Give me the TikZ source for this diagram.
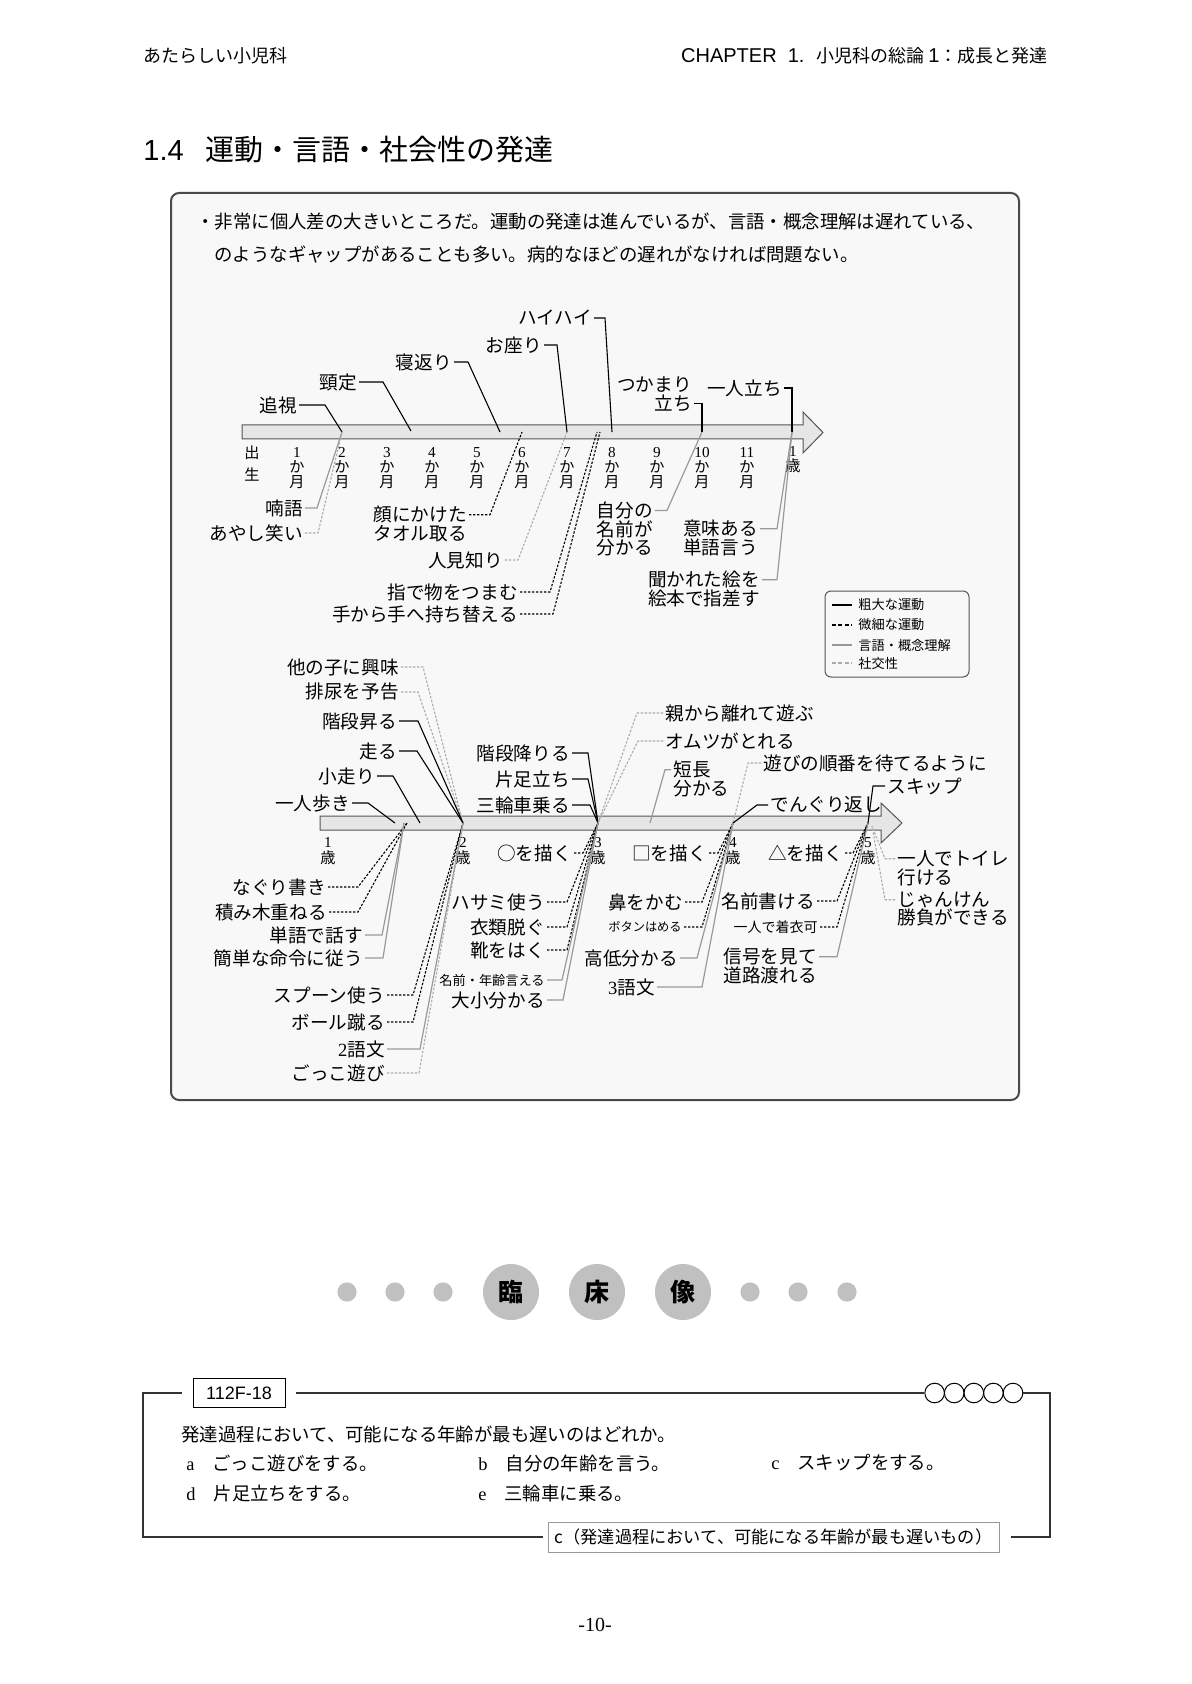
\documentclass[tikz,border=0pt]{standalone}
\usepackage{fontspec}
\setmainfont{Liberation Serif}
\newfontfamily\jp{Noto Sans CJK JP}
\newfontfamily\hd{Liberation Sans}
\definecolor{boxbg}{HTML}{F8F8F8}
\definecolor{boxline}{HTML}{4A4A4A}
\definecolor{barfill}{HTML}{E6E6E6}
\definecolor{barline}{HTML}{555555}
\definecolor{langc}{HTML}{999999}
\definecolor{socc}{HTML}{ABABAB}
\definecolor{dotc}{HTML}{C0C0C0}
\definecolor{qline}{HTML}{333333}
\tikzset{
  lbl/.style={font=\jp\fontsize{9.3}{9.3}\selectfont, inner sep=1pt, align=right},
  lblL/.style={lbl, align=left},
  small/.style={font=\jp\fontsize{6.6}{7}\selectfont, inner sep=1pt},
  tick/.style={font=\rmfamily\fontsize{7.6}{7.5}\selectfont, inner sep=0pt, align=center},
  gross/.style={line width=0.55pt, black},
  fine/.style={line width=0.55pt, black, dash pattern=on 1.2pt off 0.8pt},
  lang/.style={line width=0.6pt, langc},
  soc/.style={line width=0.55pt, socc, dash pattern=on 1.2pt off 0.8pt},
  bar/.style={draw=barline, fill=barfill, line width=0.5pt},
  note/.style={font=\jp\fontsize{9.2}{11}\selectfont, inner sep=0pt},
  leg/.style={font=\jp\fontsize{6.6}{7}\selectfont, inner sep=0pt, anchor=west},
  qtxt/.style={font=\jp\fontsize{9.2}{11}\selectfont, inner sep=0pt},
  bigdot/.style={circle, fill=dotc, minimum size=28pt, inner sep=0pt, font=\jp\bfseries\fontsize{12.5}{13}\selectfont}
}
\begin{document}
\begin{tikzpicture}[x=0.5pt,y=-0.5pt]
\useasboundingbox (0,0) rectangle (1191,1684);
\fill[white] (0,0) rectangle (1191,1684);

% header and section title
\node[font=\jp\fontsize{9}{10}\selectfont, anchor=west, inner sep=0] (hleft) at (143,56) {あたらしい小児科};
\node[font=\jp\fontsize{9}{10}\selectfont, anchor=east, inner sep=0] (hright) at (1048,56) {{\hd\fontsize{10}{10}\selectfont CHAPTER\ \ 1.}\hspace{6pt}小児科の総論\hspace{2pt}{\hd\fontsize{10}{10}\selectfont 1}：成長と発達};
\node[font=\fontsize{14.5}{16}\selectfont, anchor=west, inner sep=0] (title) at (143,150) {{\hd 1.4}\hspace{11pt}{\jp 運動・言語・社会性の発達}};

\draw[draw=boxline, fill=boxbg, line width=1pt, rounded corners=4pt] (171,193) rectangle (1019,1100);
\node[note, anchor=west] (note1) at (196,222) {・非常に個人差の大きいところだ。運動の発達は進んでいるが、言語・概念理解は遅れている、};
\node[note, anchor=west] (note2) at (214,254) {のようなギャップがあることも多い。病的なほどの遅れがなければ問題ない。};

% first year
\draw[bar] (242,425) -- (803,425) -- (803,412) -- (823,432.5) -- (803,453) -- (803,439) -- (242,439) -- cycle;
\foreach \k in {0,...,12}
  \coordinate (u\k) at ({252+45*\k},432);
\coordinate (kubiP) at (411,431);
\coordinate (negaeriP) at (500,432);
\coordinate (pinchA) at (597,432);
\coordinate (pinchB) at (600,432);
\node[tick] (t0) at (252,464) {{\jp 出}\\[3.5pt]{\jp 生}};
\foreach \k in {1,...,11}
  \node[tick] (t\k) at ({252+45*\k},468) {\k\\{\jp か}\\{\jp 月}};
\node[tick] (t12) at (793,460) {1\\{\jp 歳}};

\node[lbl, anchor=east] (tsuishi) at (299,405) {追視};
\node[lbl, anchor=east] (kubi) at (359,382) {頸定};
\node[lbl, anchor=east] (negaeri) at (454,362) {寝返り};
\node[lbl, anchor=east] (osuwari) at (544,345) {お座り};
\node[lbl, anchor=east] (haihai) at (594,318) {ハイハイ};
\node[lbl, anchor=east] (tsukamari) at (694,394) {つかまり\\立ち};
\node[lbl, anchor=east] (hitoridachi) at (784,388) {一人立ち};
\draw[gross] (tsuishi.east) -- ++(26,0) -- (u2);
\draw[gross] (kubi.east) -- ++(24,0) -- (kubiP);
\draw[gross] (negaeri.east) -- ++(14,0) -- (negaeriP);
\draw[gross] (osuwari.east) -- ++(13,0) -- (u7);
\draw[gross] (haihai.east) -- ++(11,0) -- (u8);
\draw[gross] ([yshift=-4.65pt]tsukamari.east) -- ++(8,0) -- (u10);
\draw[gross] (hitoridachi.east) -- ++(8,0) -- (u12);

\node[lbl, anchor=east] (nango) at (305,508) {喃語};
\node[lbl, anchor=east] (ayashi) at (305,533) {あやし笑い};
\node[lbl, anchor=east] (kao) at (469,524) {顔にかけた\\タオル取る};
\node[lbl, anchor=east] (hitomishiri) at (505,560) {人見知り};
\node[lbl, anchor=east] (yubi) at (520,592) {指で物をつまむ};
\node[lbl, anchor=east] (mochikae) at (520,614) {手から手へ持ち替える};
\node[lblL, anchor=east] (jibun) at (655,529) {自分の\\名前が\\分かる};
\node[lblL, anchor=east] (imi) at (760,538) {意味ある\\単語言う};
\node[lblL, anchor=east] (kikareta) at (762,589) {聞かれた絵を\\絵本で指差す};
\draw[lang] (nango.east) -- ++(12,0) -- (u2);
\draw[soc] (ayashi.east) -- ++(13,0) -- (u2);
\draw[fine] ([yshift=4.65pt]kao.east) -- ++(21,0) -- (u6);
\draw[soc] (hitomishiri.east) -- ++(13,0) -- (u7);
\draw[fine] (yubi.east) -- ++(30,0) -- (pinchA);
\draw[fine] (mochikae.east) -- ++(33,0) -- (pinchB);
\draw[lang] ([yshift=9.3pt]jibun.east) -- ++(12,0) -- (u10);
\draw[lang] ([yshift=4.65pt]imi.east) -- ++(17,0) -- (u12);
\draw[lang] ([yshift=4.65pt]kikareta.east) -- ++(15,0) -- (u12);

% legend
\draw[line width=0.5pt, draw=barline, rounded corners=3pt] (825,591) rectangle (969,677);
\node[leg] (lg1) at (858,605) {粗大な運動};
\node[leg] (lg2) at (858,625) {微細な運動};
\node[leg] (lg3) at (858,645) {言語・概念理解};
\node[leg] (lg4) at (858,663) {社交性};
\draw[gross, line width=0.8pt] ([xshift=-13pt]lg1.west) -- ++(20,0);
\draw[fine, line width=0.8pt, dash pattern=on 2pt off 1.2pt] ([xshift=-13pt]lg2.west) -- ++(20,0);
\draw[lang, line width=0.8pt] ([xshift=-13pt]lg3.west) -- ++(20,0);
\draw[soc, line width=0.8pt, dash pattern=on 2pt off 1.2pt] ([xshift=-13pt]lg4.west) -- ++(20,0);

% from 1 to 5 years
\draw[bar] (320,816) -- (881,816) -- (881,803) -- (902,823) -- (881,843) -- (881,830) -- (320,830) -- cycle;
\foreach \k in {1,...,5}
  \coordinate (y\k) at ({193+135*\k},823);
\coordinate (haP) at (395,823);
\coordinate (kbP) at (420,823);
\coordinate (nkP) at (407,823);
\coordinate (nkQ) at (404,823);
\coordinate (tcP) at (650,823);
\coordinate (y5r) at (872,826);
\foreach \k in {1,...,5}
  \node[tick, font=\rmfamily\fontsize{7.6}{8}\selectfont] (s\k) at ({193+135*\k},851) {\k\\{\jp 歳}};

\node[lbl, anchor=east] (tanoko) at (401,667) {他の子に興味};
\node[lbl, anchor=east] (hainyo) at (401,692) {排尿を予告};
\node[lbl, anchor=east] (kaidan) at (399,721) {階段昇る};
\node[lbl, anchor=east] (hashiru) at (399,751) {走る};
\node[lbl, anchor=east] (kobashiri) at (377,776) {小走り};
\node[lbl, anchor=east] (aruki) at (352,803) {一人歩き};
\node[lbl, anchor=east] (kaidanori) at (572,753) {階段降りる};
\node[lbl, anchor=east] (kataashi) at (572,779) {片足立ち};
\node[lbl, anchor=east] (sanrin) at (572,805) {三輪車乗る};
\node[lblL, anchor=west] (oya) at (663,713) {親から離れて遊ぶ};
\node[lblL, anchor=west] (omutsu) at (663,741) {オムツがとれる};
\node[lblL, anchor=west] (tancho) at (671,779) {短長\\分かる};
\node[lblL, anchor=west] (junban) at (761,763) {遊びの順番を待てるように};
\node[lblL, anchor=west] (dengu) at (768,805) {でんぐり返し};
\node[lblL, anchor=west] (skip) at (885,786) {スキップ};
\draw[soc] (tanoko.east) -- ++(22,0) -- (y2);
\draw[soc] (hainyo.east) -- ++(17,0) -- (y2);
\draw[gross] (kaidan.east) -- ++(19,0) -- (y2);
\draw[gross] (hashiru.east) -- ++(18,0) -- (y2);
\draw[gross] (kobashiri.east) -- ++(16,0) -- (kbP);
\draw[gross] (aruki.east) -- ++(16,0) -- (haP);
\draw[gross] (kaidanori.east) -- ++(16,0) -- (y3);
\draw[gross] (kataashi.east) -- ++(16,0) -- (y3);
\draw[gross] (sanrin.east) -- ++(18,0) -- (y3);
\draw[soc] (oya.west) -- ++(-26,0) -- (y3);
\draw[soc] (omutsu.west) -- ++(-25,0) -- (y3);
\draw[lang] ([yshift=4.65pt]tancho.west) -- ++(-6,0) -- (tcP);
\draw[soc] (junban.west) -- ++(-13,0) -- (y4);
\draw[gross] (dengu.west) -- ++(-11,0) -- (y4);
\draw[gross] (skip.west) -- ++(-12,0) -- (y5);

\node[lbl, anchor=east] (maru) at (574,853) {○を描く};
\node[lbl, anchor=east] (shikaku) at (709,853) {□を描く};
\node[lbl, anchor=east] (sankaku) at (845,853) {△を描く};
\draw[fine] (maru.east) -- ++(9,0) -- (y3);
\draw[fine] (shikaku.east) -- ++(9,0) -- (y4);
\draw[fine] (sankaku.east) -- ++(8,0) -- (y5);

\node[lbl, anchor=east] (naguri) at (328,887) {なぐり書き};
\node[lbl, anchor=east] (tsumiki) at (329,912) {積み木重ねる};
\node[lbl, anchor=east] (tango) at (365,935) {単語で話す};
\node[lbl, anchor=east] (meirei) at (365,958) {簡単な命令に従う};
\node[lbl, anchor=east] (spoon) at (387,995) {スプーン使う};
\node[lbl, anchor=east] (ball) at (387,1022) {ボール蹴る};
\node[lbl, anchor=east] (nigo) at (387,1049) {{\rmfamily 2}語文};
\node[lbl, anchor=east] (gokko) at (387,1073) {ごっこ遊び};
\draw[fine] (naguri.east) -- ++(30,0) -- (nkP);
\draw[fine] (tsumiki.east) -- ++(29,0) -- (nkP);
\draw[lang] (tango.east) -- ++(17,0) -- (nkQ);
\draw[lang] (meirei.east) -- ++(18,0) -- (nkQ);
\draw[fine] (spoon.east) -- ++(26,0) -- (y2);
\draw[fine] (ball.east) -- ++(26,0) -- (y2);
\draw[lang] (nigo.east) -- ++(33,0) -- (y2);
\draw[soc] (gokko.east) -- ++(32,0) -- (y2);

\node[lbl, anchor=east] (hasami) at (547,902) {ハサミ使う};
\node[lbl, anchor=east] (irui) at (547,927) {衣類脱ぐ};
\node[lbl, anchor=east] (kutsu) at (547,950) {靴をはく};
\node[small, anchor=east] (namae) at (547,980) {名前・年齢言える};
\node[lbl, anchor=east] (daisho) at (547,1000) {大小分かる};
\draw[fine] (hasami.east) -- ++(20,0) -- (y3);
\draw[fine] (irui.east) -- ++(20,0) -- (y3);
\draw[fine] (kutsu.east) -- ++(20,0) -- (y3);
\draw[lang] (namae.east) -- ++(15,0) -- (y3);
\draw[lang] (daisho.east) -- ++(16,0) -- (y3);

\node[lbl, anchor=east] (hana) at (685,902) {鼻をかむ};
\node[small, font=\jp\fontsize{6.1}{7}\selectfont, anchor=east] (botan) at (684,927) {ボタンはめる};
\node[lbl, anchor=east] (kotei) at (680,958) {高低分かる};
\node[lbl, anchor=east] (sango) at (657,987) {{\rmfamily 3}語文};
\draw[fine] (hana.east) -- ++(17,0) -- (y4);
\draw[fine] (botan.east) -- ++(18,0) -- (y4);
\draw[lang] (kotei.east) -- ++(17,0) -- (y4);
\draw[lang] (sango.east) -- ++(45,0) -- (y4);

\node[lbl, anchor=east] (namaekake) at (817,901) {名前書ける};
\node[small, font=\jp\fontsize{7}{7.5}\selectfont, anchor=east] (chakui) at (820,927) {一人で着衣可};
\node[lblL, anchor=east] (shingo) at (819,966) {信号を見て\\道路渡れる};
\node[lblL, anchor=west] (toilet) at (895,868) {一人でトイレ\\行ける};
\node[lblL, anchor=west] (janken) at (895,909) {じゃんけん\\勝負ができる};
\draw[fine] (namaekake.east) -- ++(20,0) -- (y5);
\draw[fine] (chakui.east) -- ++(17,0) -- (y5);
\draw[lang] ([yshift=4.65pt]shingo.east) -- ++(18,0) -- (y5);
\draw[soc] ([yshift=4.65pt]toilet.west) -- ++(-10,0) -- (y5r);
\draw[soc] ([yshift=4.65pt]janken.west) -- ++(-10,0) -- (y5r);

% clinical picture
\foreach \x in {347,395,443,750,798,847}
  \fill[dotc] (\x,1292) circle[radius=4.8pt];
\node[bigdot] (rin) at (511,1292) {臨};
\node[bigdot] (sho) at (597,1292) {床};
\node[bigdot] (zo) at (683,1292) {像};

% question
\node[draw=black, line width=0.5pt, minimum width=46pt, minimum height=14.5pt, inner sep=0pt, font=\hd\fontsize{9}{10}\selectfont] (qnum) at (239,1393) {112F-18};
\foreach \i in {1,...,5}
  \node[draw=black, line width=0.5pt, circle, minimum size=9.8pt, inner sep=0pt] (o\i) at ({915+19.6*\i},1393) {};
\node[draw=langc, line width=0.5pt, minimum width=225.5pt, minimum height=15pt, inner sep=0pt, font=\jp\fontsize{8.6}{10}\selectfont] (ans) at (773.5,1537) {c（発達過程において、可能になる年齢が最も遅いもの）};
\coordinate (qtl) at (143,1393);
\coordinate (qtr) at (1050,1393);
\coordinate (qbl) at (143,1537);
\coordinate (qbr) at (1050,1537);
\draw[qline, line width=1pt] ([xshift=-5.5pt]qnum.west) -- (qtl) -- (qbl) -- ([xshift=-2.5pt]ans.west);
\draw[qline, line width=1pt] ([xshift=5pt]qnum.east) -- (o1.west);
\draw[qline, line width=1pt] (o5.east) -- (qtr) -- (qbr) -- ([xshift=5.5pt]ans.east);
\node[qtxt, anchor=west] (qq) at (181,1434) {発達過程において、可能になる年齢が最も遅いのはどれか。};
\node[qtxt, anchor=west] (qa) at (186,1463) {{\rmfamily a}\hspace{9pt}ごっこ遊びをする。};
\node[qtxt, anchor=west] (qb) at (478,1463) {{\rmfamily b}\hspace{9pt}自分の年齢を言う。};
\node[qtxt, anchor=west] (qc) at (771,1463) {{\rmfamily c}\hspace{9pt}スキップをする。};
\node[qtxt, anchor=west] (qd) at (186,1494) {{\rmfamily d}\hspace{9pt}片足立ちをする。};
\node[qtxt, anchor=west] (qe) at (478,1494) {{\rmfamily e}\hspace{9pt}三輪車に乗る。};

\node[font=\rmfamily\fontsize{10}{12}\selectfont, inner sep=0] (pg) at (595,1625) {-10-};
\end{tikzpicture}
\end{document}
